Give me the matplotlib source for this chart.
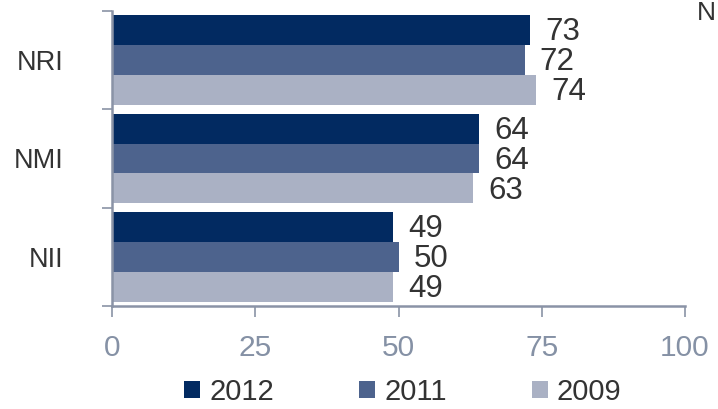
import matplotlib
matplotlib.use("Agg")
import matplotlib.pyplot as plt
from matplotlib.patches import Patch
import numpy as np

categories = ["NRI", "NMI", "NII"]
series_names = ["2012", "2011", "2009"]
values_2012 = [73, 64, 49]
values_2011 = [72, 64, 50]
values_2009 = [74, 63, 49]
x_ticks = [0, 25, 50, 75, 100]

colors = ["#022A61", "#4D638D", "#AAB1C4"]
axis_color = "#8A93A6"
text_color = "#333333"

plt.rcParams["font.family"] = ["Liberation Sans", "DejaVu Sans"]

fig = plt.figure(figsize=(7.18, 4.09), dpi=100)
ax = fig.add_axes([112 / 718, 1 - 306 / 409, (685 - 112) / 718, (306 - 11) / 409])

centers = np.arange(len(categories))
h = 0.305
all_vals = [values_2012, values_2011, values_2009]
for k, (vals, col) in enumerate(zip(all_vals, colors)):
    ypos = centers + (k - 1) * h
    ax.barh(ypos, vals, height=h, color=col, linewidth=0)
    for y, v in zip(ypos, vals):
        ax.annotate(str(v), xy=(v, y), xytext=(11, -1.5), textcoords="offset points",
                    ha="left", va="center", fontsize=22.5, color=text_color)

ax.set_xlim(0, 100)
ax.set_ylim(2.5, -0.5)

ax.set_xticks(x_ticks)
ax.set_xticklabels([str(t) for t in x_ticks])
ax.tick_params(axis="x", direction="out", length=8, width=1.2, color=axis_color,
               labelcolor="#8591A5", labelsize=21.5, pad=12)

ax.set_yticks(centers)
ax.set_yticklabels(categories)
ax.tick_params(axis="y", which="major", length=0, pad=35, labelsize=19.5, labelcolor=text_color)
ax.set_yticks([-0.5, 0.5, 1.5, 2.5], minor=True)
ax.tick_params(axis="y", which="minor", direction="out", length=7, width=1.2, color=axis_color)

for s in ["top", "right"]:
    ax.spines[s].set_visible(False)
for s in ["left", "bottom"]:
    ax.spines[s].set_color(axis_color)
    ax.spines[s].set_linewidth(1.8)

handles = [Patch(facecolor=c, edgecolor="none", label=n) for c, n in zip(colors, series_names)]
fig.legend(handles=handles, loc="center", bbox_to_anchor=(403 / 718, 1 - 392 / 409), ncol=3,
           frameon=False, fontsize=21, handlelength=0.55, handleheight=0.55,
           handletextpad=0.32, columnspacing=2.9, labelcolor=text_color, borderaxespad=0,
           borderpad=0)

fig.text(716 / 718, 1 - 1 / 409, "N", ha="right", va="top", fontsize=19, color=text_color)

fig.savefig("out.png", dpi=100)
